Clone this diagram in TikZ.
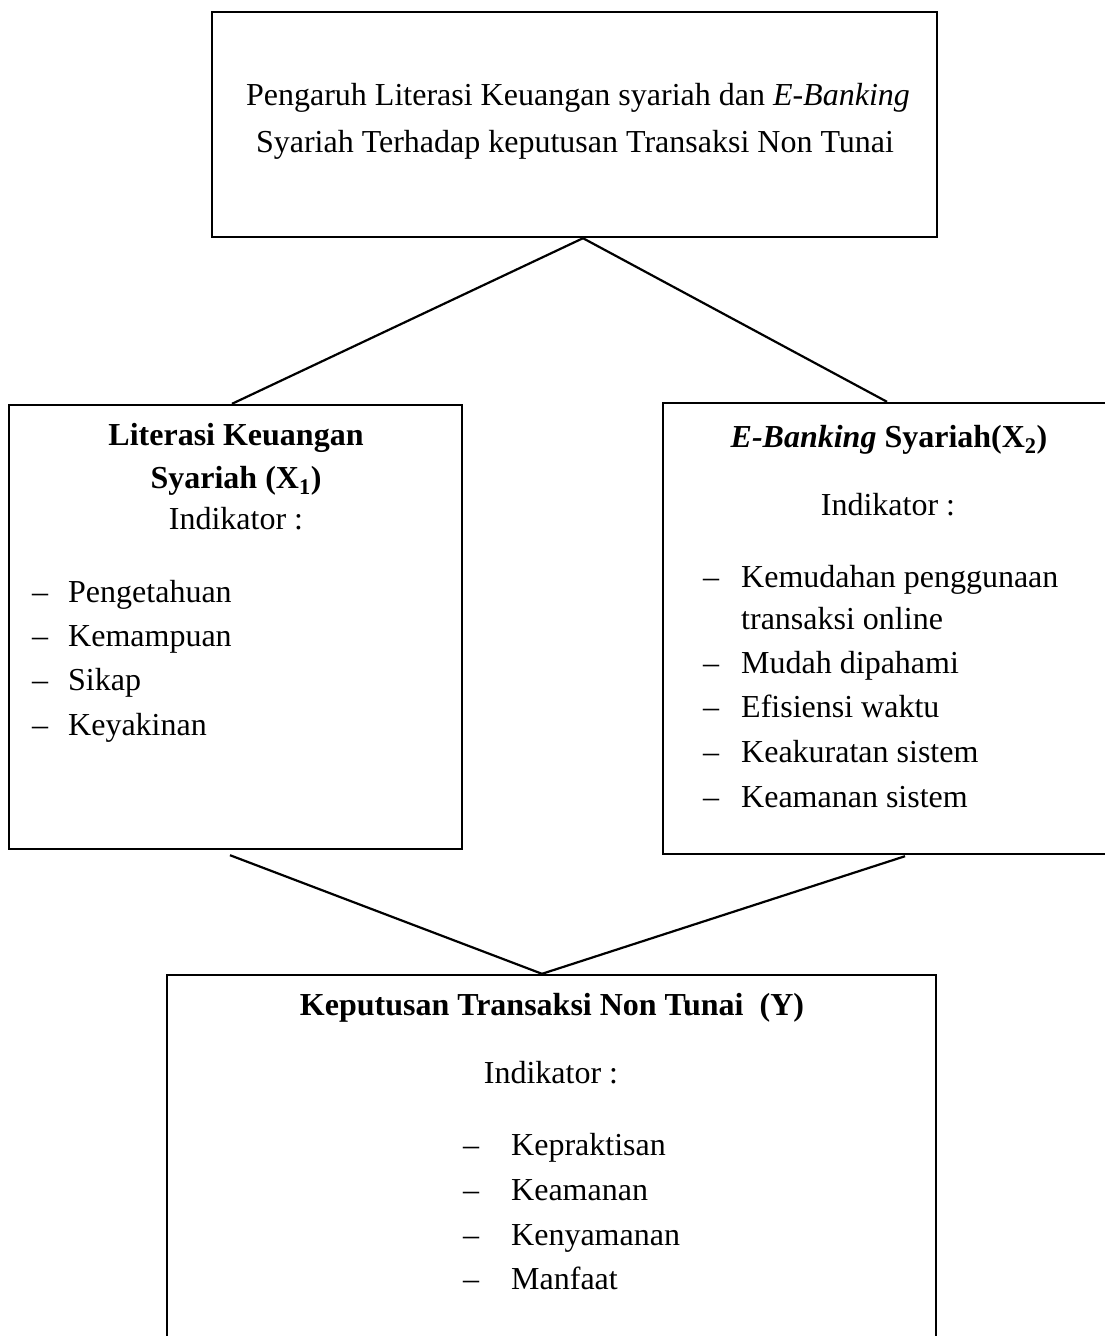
\documentclass[tikz,border=0pt]{standalone}
\usepackage{fontspec}
\setmainfont{Liberation Serif}
\begin{document}
\begin{tikzpicture}[x=1pt,y=-1pt,
  box/.style={draw, line width=2.4pt, inner sep=0pt},
  conn/.style={line width=2.2pt},
  txt/.style={inner sep=0pt, font=\fontsize{32pt}{40pt}\selectfont},
]
\useasboundingbox (0,0) rectangle (1105,1336);
\begin{scope}
\clip (0,0) rectangle (1105,1336);
% boxes
\node[box, minimum width=725pt, minimum height=225pt] (top) at (574.5,124.5) {};
\node[box, minimum width=453pt, minimum height=444pt] (lit) at (235.5,627) {};
\node[box, minimum width=452pt, minimum height=451pt] (ebk) at (889,628.5) {};
\node[box, minimum width=769pt, minimum height=375pt] (kep) at (551.5,1162.5) {};
% connector end points
\coordinate (apexT) at ([xshift=8.5pt]top.south);
\coordinate (litN) at ([xshift=-3.5pt]lit.north);
\coordinate (ebkN) at ([xshift=-2pt]ebk.north);
\coordinate (litS) at ([xshift=-5.5pt,yshift=-5pt]lit.south);
\coordinate (ebkS) at ([xshift=16pt,yshift=-1pt]ebk.south);
\coordinate (apexB) at ([xshift=-9.5pt]kep.north);
\draw[conn] (apexT) -- (litN);
\draw[conn] (apexT) -- (ebkN);
\draw[conn] (litS) -- (apexB);
\draw[conn] (ebkS) -- (apexB);
% top text
\node[txt, anchor=base] (t1) at (578,105) {Pengaruh Literasi Keuangan syariah dan \textit{E-Banking}};
\node[txt, anchor=base] (t2) at (575,152) {Syariah Terhadap keputusan Transaksi Non Tunai};
% left box text
\node[txt, anchor=base] (l1) at (236,445) {\textbf{Literasi Keuangan}};
\node[txt, anchor=base] (l2) at (236,488) {\textbf{Syariah (X\textsubscript{1})}};
\node[txt, anchor=base] (l3) at (236,529) {Indikator :};
\node[txt, anchor=base west] (ld1) at (32,602) {–};
\node[txt, anchor=base west] (li1) at (68,602) {Pengetahuan};
\node[txt, anchor=base west] (ld2) at (32,646) {–};
\node[txt, anchor=base west] (li2) at (68,646) {Kemampuan};
\node[txt, anchor=base west] (ld3) at (32,690) {–};
\node[txt, anchor=base west] (li3) at (68,690) {Sikap};
\node[txt, anchor=base west] (ld4) at (32,735) {–};
\node[txt, anchor=base west] (li4) at (68,735) {Keyakinan};
% right box text
\node[txt, anchor=base] (r1) at (889,447) {\textbf{\textit{E-Banking} Syariah(X\textsubscript{2})}};
\node[txt, anchor=base] (r2) at (888,515) {Indikator :};
\node[txt, anchor=base west] (rd1) at (703,587) {–};
\node[txt, anchor=base west] (ri1) at (741,587) {Kemudahan penggunaan};
\node[txt, anchor=base west] (ri1b) at (741,629) {transaksi online};
\node[txt, anchor=base west] (rd2) at (703,673) {–};
\node[txt, anchor=base west] (ri2) at (741,673) {Mudah dipahami};
\node[txt, anchor=base west] (rd3) at (703,717) {–};
\node[txt, anchor=base west] (ri3) at (741,717) {Efisiensi waktu};
\node[txt, anchor=base west] (rd4) at (703,762) {–};
\node[txt, anchor=base west] (ri4) at (741,762) {Keakuratan sistem};
\node[txt, anchor=base west] (rd5) at (703,807) {–};
\node[txt, anchor=base west] (ri5) at (741,807) {Keamanan sistem};
% bottom box text
\node[txt, anchor=base] (b1) at (552,1015) {\textbf{Keputusan Transaksi Non Tunai\ \ (Y)}};
\node[txt, anchor=base] (b2) at (551,1083) {Indikator :};
\node[txt, anchor=base west] (bd1) at (463,1155) {–};
\node[txt, anchor=base west] (bi1) at (511,1155) {Kepraktisan};
\node[txt, anchor=base west] (bd2) at (463,1200) {–};
\node[txt, anchor=base west] (bi2) at (511,1200) {Keamanan};
\node[txt, anchor=base west] (bd3) at (463,1245) {–};
\node[txt, anchor=base west] (bi3) at (511,1245) {Kenyamanan};
\node[txt, anchor=base west] (bd4) at (463,1289) {–};
\node[txt, anchor=base west] (bi4) at (511,1289) {Manfaat};
\end{scope}
\end{tikzpicture}
\end{document}
